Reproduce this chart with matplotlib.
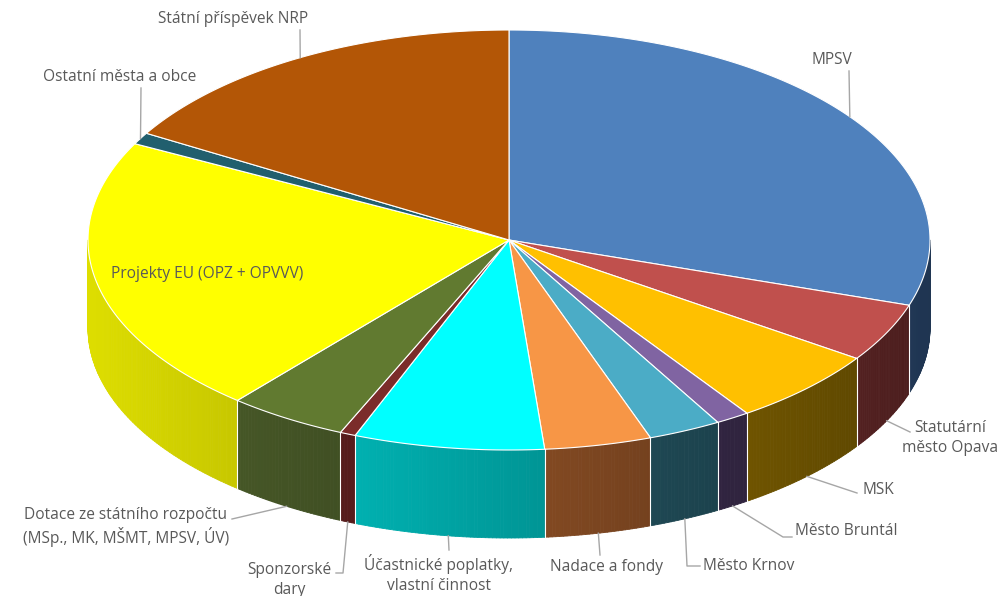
import numpy as np
import matplotlib.pyplot as plt
from matplotlib.patches import Polygon
from matplotlib.collections import PolyCollection
from matplotlib.colors import to_rgb

plt.rcParams['font.family'] = ['Open Sans', 'DejaVu Sans']

# data, clockwise from 12 o'clock
labels = ['MPSV', 'Statutární\nměsto Opava', 'MSK', 'Město Bruntál', 'Město Krnov',
          'Nadace a fondy', 'Účastnické poplatky,\nvlastní činnost', 'Sponzorské\ndary',
          'Dotace ze státního rozpočtu\n(MSp., MK, MŠMT, MPSV, ÚV)',
          'Projekty EU (OPZ + OPVVV)', 'Ostatní města a obce', 'Státní příspěvek NRP']
shares = [30.0, 4.5, 5.9, 1.3, 2.8, 4.1, 7.3, 0.6, 4.6, 21.4, 0.9, 16.5]
top_colors = ['#4F81BD', '#C0504D', '#FFC000', '#8064A2', '#4BACC6', '#F79646',
              '#00FFFF', '#7B2C2A', '#617A30', '#FFFF00', '#215F6E', '#B35606']
side_colors = ['#1F3552', '#4F1F1F', '#674E00', '#30243F', '#1D4550', '#7B4520',
               '#00A3A3', '#561C1C', '#435325', '#D8D800', '#15404A', '#6E3503']

# pie geometry (pixel space)
cx, cy = 509, 240
rx, ry = 421, 210
depth = 88

fig = plt.figure(figsize=(10, 5.96), dpi=100)
ax = fig.add_axes([0, 0, 1, 1])
ax.set_xlim(0, 1000)
ax.set_ylim(596, 0)
ax.axis('off')


def ex(t):
    return cx + rx * np.cos(np.radians(t))


def ey(t):
    return cy - ry * np.sin(np.radians(t))


def light(t):
    return 0.62 - 0.25 * np.cos(np.radians(t))


frac = np.array(shares) / sum(shares) * 360
bounds = 90 - np.concatenate([[0], np.cumsum(frac)])

# side walls (front half only)
polys, cols = [], []
for i in range(len(shares)):
    a1, a0 = bounds[i + 1], bounds[i]
    lo, hi = max(a1, -180), min(a0, 0)
    if lo >= hi:
        continue
    mid = (lo + hi) / 2
    base = np.array(to_rgb(side_colors[i]))
    ts = np.linspace(lo, hi, max(2, int((hi - lo) * 2) + 1))
    for t0, t1 in zip(ts[:-1], ts[1:]):
        polys.append([(ex(t0), ey(t0)), (ex(t1), ey(t1)),
                      (ex(t1), ey(t1) + depth), (ex(t0), ey(t0) + depth)])
        c = np.clip(base * light((t0 + t1) / 2) / light(mid), 0, 1)
        cols.append(c)
ax.add_collection(PolyCollection(polys, facecolors=cols, edgecolors=cols, linewidths=0.6))

for b in bounds:
    bb = ((b + 180) % 360) - 180
    if -180 < bb < 0:
        ax.plot([ex(bb), ex(bb)], [ey(bb), ey(bb) + depth], color='white', lw=0.8)

# top faces
for i in range(len(shares)):
    ts = np.linspace(bounds[i], bounds[i + 1], 200)
    pts = [(cx, cy)] + [(ex(t), ey(t)) for t in ts]
    ax.add_patch(Polygon(pts, closed=True, facecolor=top_colors[i],
                         edgecolor='white', lw=0.8))

# labels: (text x, text y, ha, leader elbow points, anchor on bottom edge?)
label_layout = [
    (832, 60, 'center', [(849, 71)], False),
    (950, 438, 'center', [(910, 432)], True),
    (862, 490, 'left', [(857, 493)], True),
    (795, 531, 'left', [(783, 537), (792, 537)], True),
    (703, 566, 'left', [(687, 566), (700, 566)], True),
    (607, 567, 'center', [(600, 555)], True),
    (439, 574, 'center', [(449, 550)], True),
    (289, 580, 'center', [(343, 573), (336, 573)], True),
    (126, 527, 'center', [(232, 519)], True),
    (207, 274, 'center', [], False),
    (120, 77, 'center', [(141, 88)], False),
    (233, 19, 'center', [(300, 30)], False),
]
for i, (tx, ty, ha, elbow, front) in enumerate(label_layout):
    mid = (bounds[i] + bounds[i + 1]) / 2
    if elbow:
        ax0, ay0 = ex(mid), ey(mid) + (depth if front else 0)
        xs = [ax0] + [p[0] for p in elbow]
        ys = [ay0] + [p[1] for p in elbow]
        ax.plot(xs, ys, color='#A6A6A6', lw=1)
    ax.text(tx, ty, labels[i], ha=ha, va='center', fontsize=11.2,
            color='#595959', linespacing=1.3)

plt.savefig('out.png', dpi=100)
